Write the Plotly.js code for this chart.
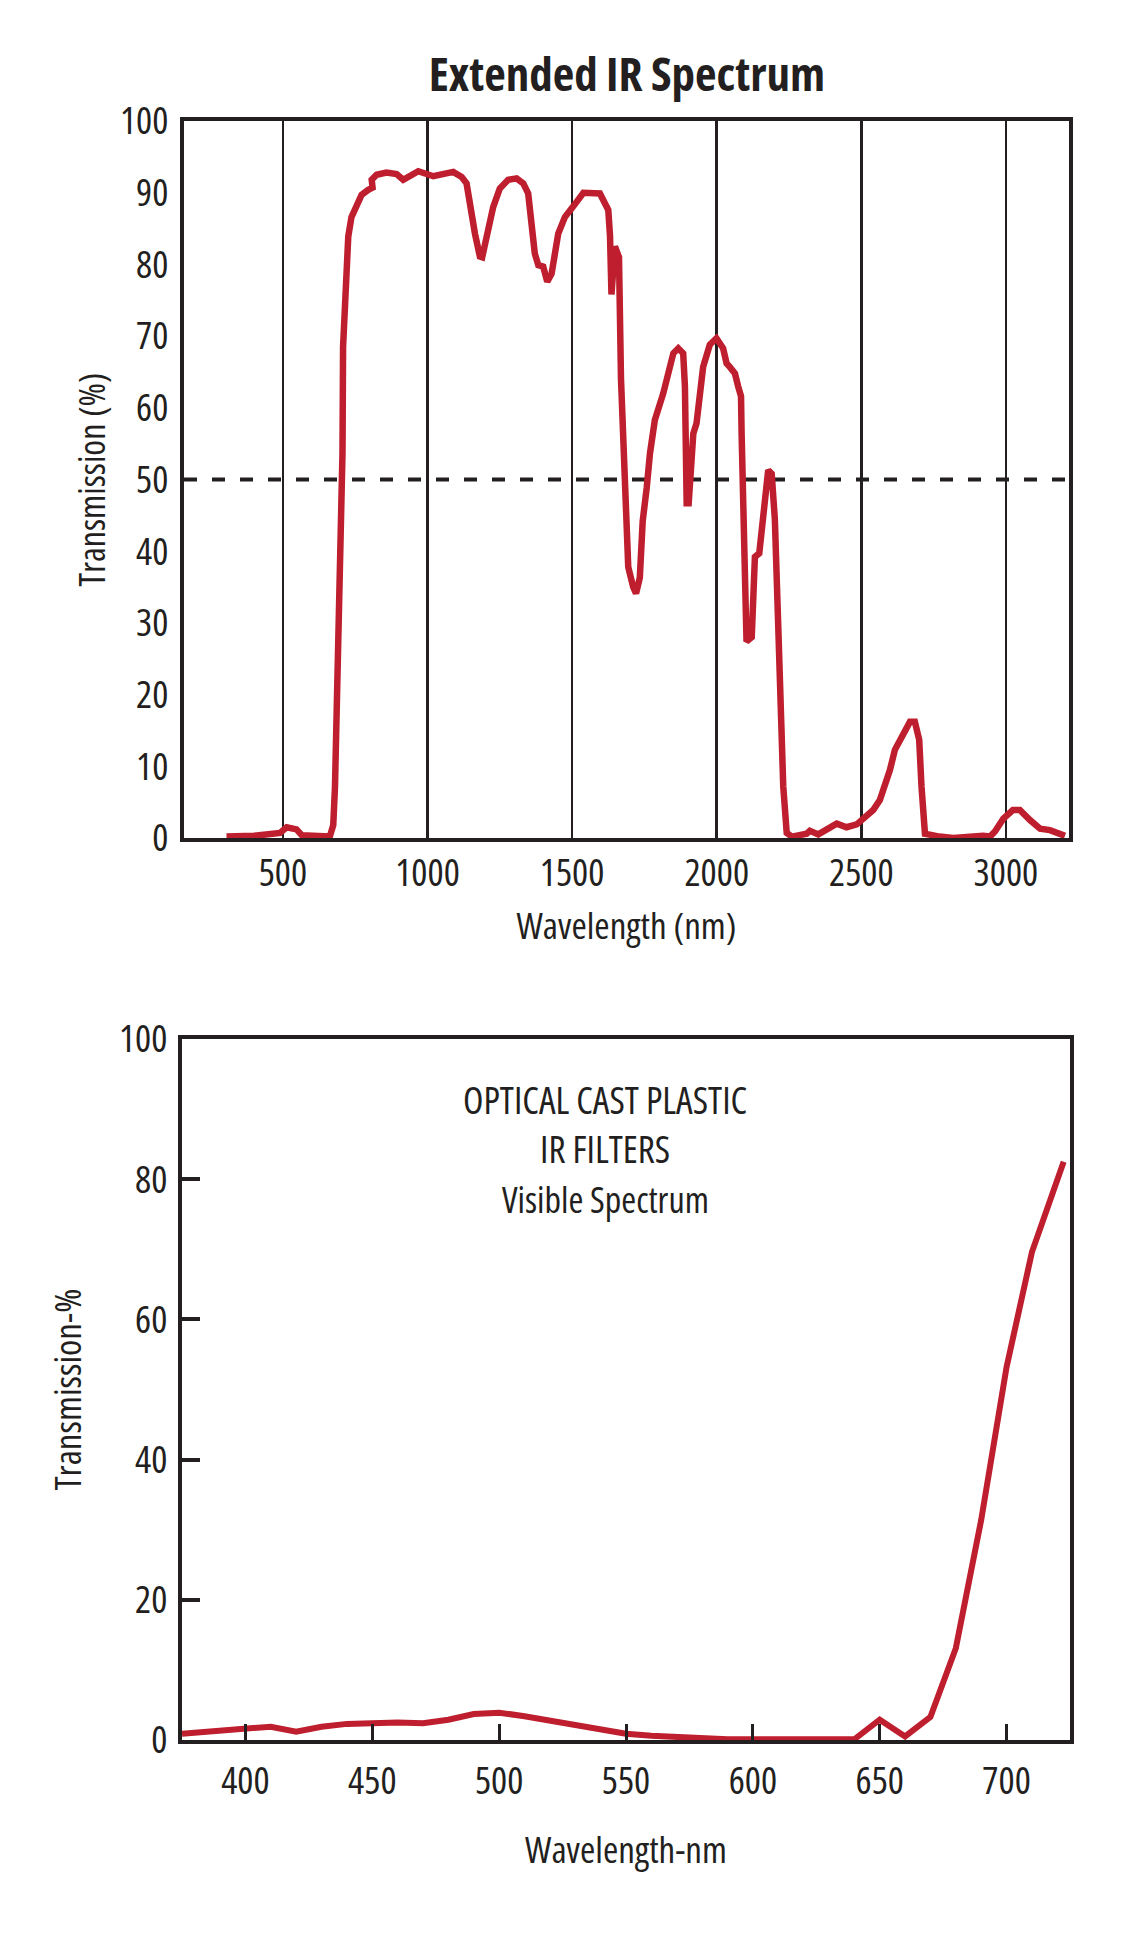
<!DOCTYPE html>
<html>
<head>
<meta charset="utf-8">
<script src="https://cdn.plot.ly/plotly-3.0.1.min.js"></script>
<style>
  html, body { margin: 0; padding: 0; background: #ffffff; }
  #chart { width: 1130px; height: 1956px; }
  text { font-stretch: 75%; }
</style>
</head>
<body>
<div id="chart"></div>
<script>
// ---------- Data: Extended IR Spectrum ----------
var irWavelength = [305, 400, 490, 505, 513, 547, 565, 662, 674, 680, 686, 695, 700, 703, 706, 708, 720, 726, 737, 755, 772, 795, 810, 807, 824, 858, 893, 916, 968, 1020, 1089, 1118, 1135, 1164, 1181, 1189, 1210, 1227, 1250, 1279, 1308, 1331, 1348, 1354, 1371, 1383, 1400, 1414, 1429, 1452, 1475, 1504, 1539, 1596, 1625, 1631, 1636, 1648, 1662, 1669, 1677, 1685, 1694, 1711, 1721, 1734, 1744, 1758, 1769, 1786, 1800, 1815, 1838, 1850, 1867, 1884, 1890, 1893, 1896, 1903, 1910, 1919, 1930, 1953, 1976, 1999, 2022, 2034, 2045, 2063, 2074, 2084, 2086, 2092, 2097, 2103, 2121, 2126, 2132, 2147, 2155, 2167, 2178, 2190, 2201, 2212, 2218, 2224, 2230, 2242, 2260, 2311, 2322, 2351, 2415, 2449, 2484, 2507, 2541, 2564, 2582, 2599, 2616, 2645, 2668, 2685, 2700, 2708, 2720, 2770, 2818, 2921, 2945, 2962, 2991, 3024, 3048, 3083, 3118, 3152, 3204];
var irTransmission = [0.2, 0.3, 0.7, 1.3, 1.5, 1.2, 0.4, 0.2, 1.8, 7.1, 16.5, 30.4, 39.7, 46.7, 53.7, 68.5, 80.6, 83.9, 86.6, 88.5, 89.7, 90.4, 90.7, 91.8, 92.5, 92.8, 92.6, 91.8, 93.0, 92.3, 92.9, 92.2, 91.3, 84.3, 81.1, 81.0, 84.8, 88.0, 90.6, 91.8, 92.0, 91.3, 89.9, 87.1, 81.5, 79.9, 79.7, 77.6, 78.7, 84.3, 86.6, 88.1, 90.0, 89.9, 87.6, 84.0, 75.8, 82.5, 81.0, 64.0, 56.4, 45.5, 37.8, 35.0, 34.1, 36.3, 44.2, 48.9, 53.6, 58.3, 60.0, 62.0, 65.7, 67.6, 68.3, 67.6, 63.0, 56.0, 46.7, 46.7, 52.0, 56.4, 57.8, 65.7, 68.8, 69.7, 68.3, 66.2, 65.7, 64.8, 63.0, 61.6, 56.4, 44.4, 35.0, 27.4, 28.0, 35.7, 39.2, 39.7, 42.9, 49.0, 51.3, 50.8, 44.4, 30.4, 21.1, 14.1, 7.2, 0.7, 0.2, 0.6, 1.0, 0.5, 2.0, 1.5, 1.9, 2.7, 3.9, 5.3, 7.2, 9.5, 12.3, 14.6, 16.2, 16.2, 13.7, 7.2, 0.6, 0.2, 0.0, 0.3, 0.2, 0.9, 2.7, 3.9, 3.9, 2.5, 1.3, 1.1, 0.3];
var irTickValues = [500, 1000, 1500, 2000, 2500, 3000];
var irTickLabels = ["500", "1000", "1500", "2000", "2500", "3000"];
var irYTickValues = [0, 10, 20, 30, 40, 50, 60, 70, 80, 90, 100];
var halfLevel = 50;

// ---------- Data: Visible Spectrum ----------
var visWavelength = [375, 390, 400, 410, 420, 430, 440, 450, 460, 470, 480, 490, 500, 510, 520, 530, 540, 550, 560, 570, 580, 590, 600, 610, 620, 630, 640, 650, 660, 670, 680, 690, 700, 710, 722.5];
var visTransmission = [0.9, 1.3, 1.7, 1.9, 1.2, 1.9, 2.3, 2.5, 2.5, 2.4, 2.9, 3.7, 3.9, 3.4, 2.8, 2.2, 1.5, 0.9, 0.6, 0.4, 0.2, 0.1, 0.1, 0.1, 0.1, 0.1, 0.1, 2.9, 0.5, 3.3, 13.1, 31.4, 53.2, 69.6, 82.5];
var visTickValues = [400, 450, 500, 550, 600, 650, 700];
var visTickLabels = ["400", "450", "500", "550", "600", "650", "700"];
var visYTickValues = [0, 20, 40, 60, 80, 100];
var noteLines = ["OPTICAL CAST PLASTIC", "IR FILTERS", "Visible Spectrum"];

// ---------- Styling ----------
var FONT = '"Open Sans", "Noto Sans", sans-serif';
var INK = '#231f20';
var RED = '#be1e2d';

var traces = [
  {
    x: irWavelength, y: irTransmission, xaxis: 'x', yaxis: 'y',
    type: 'scatter', mode: 'lines',
    line: { color: RED, width: 6.5, shape: 'linear' },
    hoverinfo: 'skip', showlegend: false
  },
  {
    x: visWavelength, y: visTransmission, xaxis: 'x2', yaxis: 'y2',
    type: 'scatter', mode: 'lines',
    line: { color: RED, width: 6 },
    hoverinfo: 'skip', showlegend: false
  }
];

var W = 1130, H = 1956;
function px(v) { return v / W; }
function py(v) { return 1 - v / H; }

var layout = {
  width: W, height: H,
  margin: { l: 0, r: 0, t: 0, b: 0, pad: 0 },
  paper_bgcolor: '#ffffff', plot_bgcolor: '#ffffff',
  font: { family: FONT, color: INK, size: 38 },
  showlegend: false,
  title: {
    text: '<b>Extended IR Spectrum</b>',
    font: { family: FONT, size: 47, color: INK },
    x: px(627), xanchor: 'center', xref: 'paper',
    y: py(75), yanchor: 'middle', yref: 'container'
  },
  xaxis: {
    domain: [px(184), px(1069)],
    anchor: 'y',
    range: [158, 3218],
    tickmode: 'array', tickvals: irTickValues, ticktext: irTickLabels,
    ticks: '', ticklabelstandoff: -2,
    tickfont: { family: FONT, size: 38, color: INK },
    showgrid: true, gridcolor: INK, gridwidth: 2.5,
    zeroline: false,
    showline: true, mirror: true, linecolor: INK, linewidth: 4,
    title: { text: 'Wavelength (nm)', font: { family: FONT, size: 37, color: INK }, standoff: 19 }
  },
  yaxis: {
    domain: [py(838), py(121)],
    anchor: 'x',
    range: [0, 100],
    tickmode: 'array', tickvals: irYTickValues,
    ticks: '', ticklabelstandoff: 4,
    tickfont: { family: FONT, size: 38, color: INK },
    showgrid: false, zeroline: false,
    showline: true, mirror: true, linecolor: INK, linewidth: 4,
    title: { text: 'Transmission (%)', font: { family: FONT, size: 36, color: INK }, standoff: 4 }
  },
  xaxis2: {
    domain: [px(182), px(1070)],
    anchor: 'y2',
    range: [375, 725],
    tickmode: 'array', tickvals: visTickValues, ticktext: visTickLabels,
    ticks: 'inside', ticklen: 16, tickwidth: 3, tickcolor: INK,
    ticklabelstandoff: 4,
    tickfont: { family: FONT, size: 38, color: INK },
    showgrid: false, zeroline: false,
    showline: true, mirror: true, linecolor: INK, linewidth: 4,
    title: { text: 'Wavelength-nm', font: { family: FONT, size: 37, color: INK }, standoff: 35 }
  },
  yaxis2: {
    domain: [py(1740), py(1039)],
    anchor: 'x2',
    range: [0, 100],
    tickmode: 'array', tickvals: visYTickValues,
    ticks: 'inside', ticklen: 18, tickwidth: 4, tickcolor: INK,
    ticklabelstandoff: 3,
    tickfont: { family: FONT, size: 38, color: INK },
    showgrid: false, zeroline: false,
    showline: true, mirror: true, linecolor: INK, linewidth: 4,
    title: { text: 'Transmission-%', font: { family: FONT, size: 37, color: INK }, standoff: 27 }
  },
  shapes: [
    {
      type: 'line', xref: 'x domain', yref: 'y',
      x0: 0, x1: 1, y0: halfLevel, y1: halfLevel,
      line: { color: INK, width: 4, dash: '13px,15px' },
      layer: 'below'
    }
  ],
  annotations: [
    { text: noteLines[0], xref: 'paper', yref: 'paper', x: px(605), y: py(1099),
      xanchor: 'center', yanchor: 'middle', showarrow: false,
      font: { family: FONT, size: 37.5, color: INK } },
    { text: noteLines[1], xref: 'paper', yref: 'paper', x: px(605), y: py(1148),
      xanchor: 'center', yanchor: 'middle', showarrow: false,
      font: { family: FONT, size: 37.5, color: INK } },
    { text: noteLines[2], xref: 'paper', yref: 'paper', x: px(605), y: py(1199),
      xanchor: 'center', yanchor: 'middle', showarrow: false,
      font: { family: FONT, size: 36, color: INK } }
  ]
};

Plotly.newPlot('chart', traces, layout, { staticPlot: true, displayModeBar: false, responsive: false });
</script>
</body>
</html>
